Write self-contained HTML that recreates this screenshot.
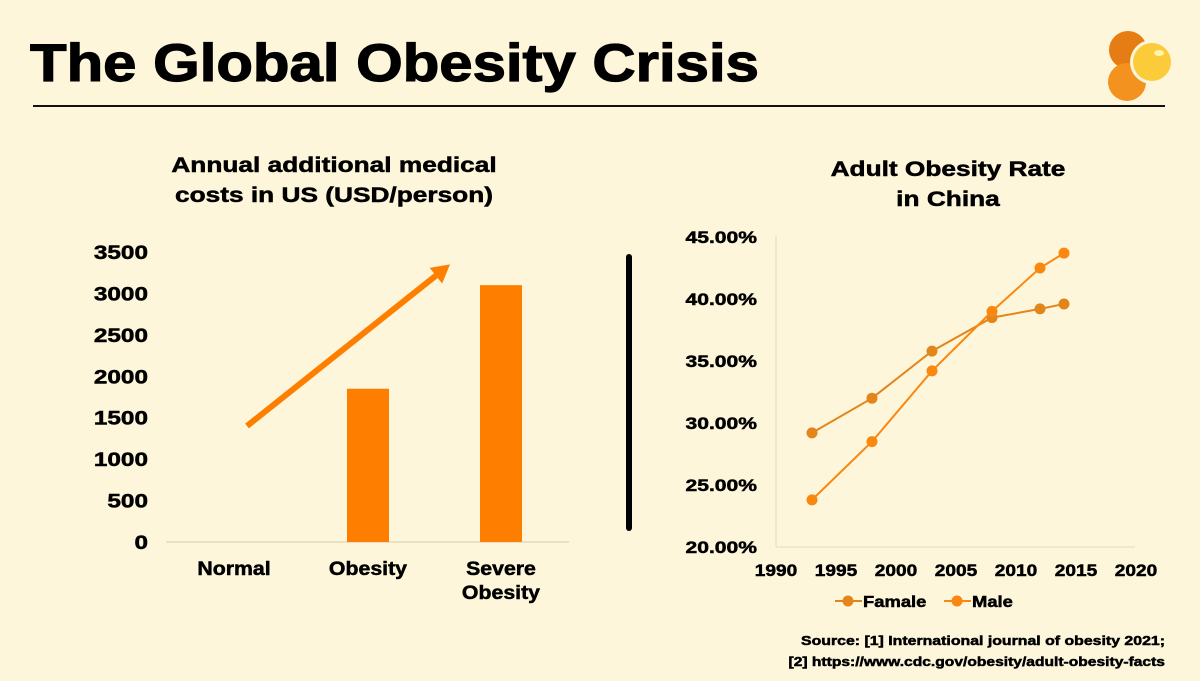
<!DOCTYPE html>
<html><head><meta charset="utf-8"><style>
html,body{margin:0;padding:0;background:#fdf6da;}
body{width:1200px;height:676px;overflow:hidden;position:relative;font-family:"Liberation Sans",sans-serif;}
text{font-family:"Liberation Sans",sans-serif;font-weight:bold;stroke:#000;stroke-width:0.5px;}
</style></head><body>
<svg width="1200" height="676" viewBox="0 0 1200 676" xmlns="http://www.w3.org/2000/svg">
<rect width="1200" height="676" fill="#fdf6da"/>
<text x="30" y="81" font-size="53" fill="#000" data-w="1.13" style="stroke-width:1.2px">The Global Obesity Crisis</text>
<line x1="33" y1="106" x2="1165" y2="106" stroke="#111" stroke-width="2"/>
<g>
<circle cx="1128" cy="50" r="19" fill="#e67d14"/>
<circle cx="1127" cy="82" r="19" fill="#f49220"/>
<circle cx="1152" cy="62" r="22" fill="#fdf6da"/>
<circle cx="1152" cy="62" r="19" fill="#fbcb3a"/>
<ellipse cx="1159" cy="53" rx="5" ry="3" fill="#fff3b0"/>
</g>
<text x="334" y="172" font-size="21" text-anchor="middle" data-w="1.25">Annual additional medical</text>
<text x="334" y="202" font-size="21" text-anchor="middle" data-w="1.25">costs in US (USD/person)</text>
<g id="bars"></g>
<rect x="626" y="254" width="6" height="277" rx="3" fill="#000"/>
<text x="948" y="176" font-size="21" text-anchor="middle" data-w="1.25">Adult Obesity Rate</text>
<text x="948" y="206" font-size="21" text-anchor="middle" data-w="1.25">in China</text>
<g id="lines"></g>
<text x="1165" y="645" font-size="13" text-anchor="end" data-w="1.22">Source: [1] International journal of obesity 2021;</text>
<text x="1165" y="666" font-size="13" text-anchor="end" data-w="1.2">[2] https://www.cdc.gov/obesity/adult-obesity-facts</text>
</svg>
<script>
const NS="http://www.w3.org/2000/svg";
function mk(tag,attrs,parent,txt){const e=document.createElementNS(NS,tag);for(const k in attrs)e.setAttribute(k,attrs[k]);if(txt!=null)e.textContent=txt;parent.appendChild(e);return e;}

// Bar chart data
const barCategories=["Normal","Obesity","Severe|Obesity"];
const barValues=[0,1850,3100];
const barTicks=[0,500,1000,1500,2000,2500,3000,3500];
const arrowFrom=[1400];const arrowTo=[3350];

// Line chart data
const years=[1993,1998,2003,2008,2012,2014];
const femaleValues=[29.2,32.0,35.8,38.5,39.2,39.6];
const maleValues=[23.8,28.5,34.2,39.0,42.5,43.7];
const yTicks=[20,25,30,35,40,45];
const xTicks=[1990,1995,2000,2005,2010,2015,2020];

(function(){
const g=document.getElementById('bars');
const y=v=>542-v/3500*290;
const x0=166,x1=569;
mk('line',{x1:x0,y1:542,x2:x1,y2:542,stroke:'#e2dac0','stroke-width':1.5},g);
barTicks.forEach(t=>{const e=mk('text',{x:148,y:y(t)+7,'font-size':19,'text-anchor':'end','data-w':1.28},g,t);

});
barCategories.forEach((c,i)=>{
 const cxx=[234,368,501][i];
 const h=542-y(barValues[i]);
 if(barValues[i]>0){const r=mk('rect',{x:cxx-21,y:y(barValues[i]),width:42,height:h,fill:'#fe7f00'},g);
 
 }
 c.split('|').forEach((l,j)=>{const t=mk('text',{x:cxx,y:575+j*24,'font-size':19,'text-anchor':'middle','data-w':1.12},g,l);
 
 });
});
const ax1=247,ay1=y(arrowFrom[0]),ax2=450,ay2=y(arrowTo[0]);
const ang=Math.atan2(ay2-ay1,ax2-ax1);
const bx=ax2-18*Math.cos(ang),by=ay2-18*Math.sin(ang);
const a=mk('line',{x1:ax1,y1:ay1,x2:bx,y2:by,stroke:'#fe7f00','stroke-width':6},g);


const px=-Math.sin(ang)*10,py=Math.cos(ang)*10;
const hd=mk('polygon',{points:`${ax2},${ay2} ${bx+px},${by+py} ${bx-px},${by-py}`,fill:'#fe7f00'},g);


})();

(function(){
const g=document.getElementById('lines');
const x=v=>776+(v-1990)*12;
const y=v=>547-(v-20)/25*310;
mk('line',{x1:776,y1:236,x2:776,y2:547,stroke:'#e2dac0','stroke-width':1},g);
mk('line',{x1:776,y1:547,x2:1135,y2:547,stroke:'#e2dac0','stroke-width':1},g);
yTicks.forEach(t=>{const e=mk('text',{x:757,y:y(t)+6,'font-size':17,'text-anchor':'end','data-w':1.24},g,t.toFixed(2)+'%');

});
xTicks.forEach(t=>{const e=mk('text',{x:x(t),y:576,'font-size':17,'text-anchor':'middle','data-w':1.12},g,t);

});
const series=[[femaleValues,'#e2861c','female'],[maleValues,'#fa8710','male']];
series.forEach(([vals,col,nm])=>{
 const p=mk('polyline',{points:years.map((yr,i)=>x(yr)+','+y(vals[i])).join(' '),fill:'none',stroke:col,'stroke-width':2},g);
 
 
 years.forEach((yr,i)=>{const c=mk('circle',{cx:x(yr),cy:y(vals[i]),r:5.5,fill:col},g);
 
 });
});
[[835,'#e2861c','Famale'],[944,'#fa8710','Male']].forEach(([lx,col,l])=>{
 const lg=mk('g',{},g);
 
 
 mk('line',{x1:lx,y1:601,x2:lx+27,y2:601,stroke:col,'stroke-width':2},lg);
 mk('circle',{cx:lx+13,cy:601,r:5.5,fill:col},lg);
 mk('text',{x:lx+28,y:607,'font-size':16,'data-w':1.15},lg,l);
});
})();

document.querySelectorAll('text[data-w]').forEach(t=>{
 const f=parseFloat(t.getAttribute('data-w'));
 const L=t.getComputedTextLength();
 t.setAttribute('textLength',(L*f).toFixed(1));
 t.setAttribute('lengthAdjust','spacingAndGlyphs');
});
</script>
</body></html>
